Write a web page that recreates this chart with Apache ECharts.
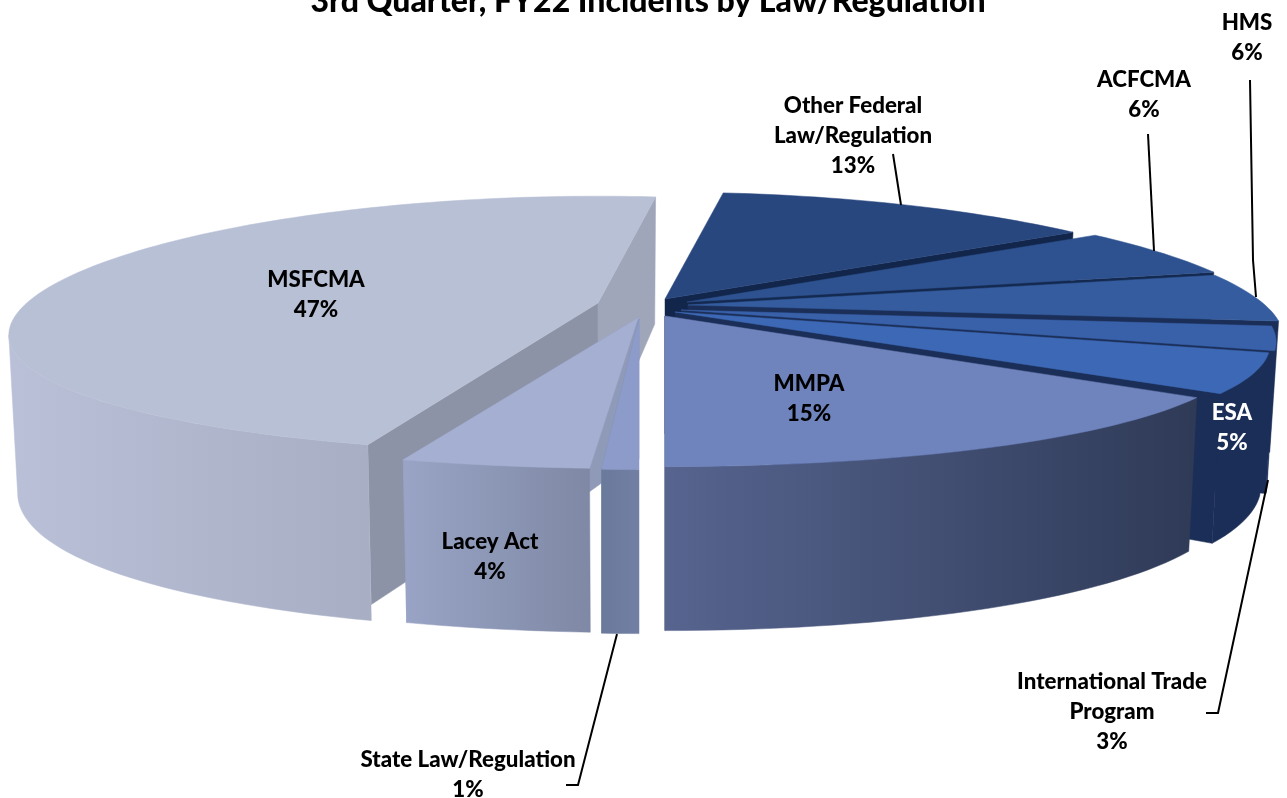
<!DOCTYPE html>
<html>
<head>
<meta charset="utf-8">
<style>html,body{margin:0;padding:0;background:#fff}#c{width:1287px;height:798px}</style>
<script src="https://cdn.jsdelivr.net/npm/echarts@6/dist/echarts.min.js"></script>
</head>
<body>
<div id="c"></div>
<script>
// ---------- data ----------
var titleText = '3rd Quarter, FY22 Incidents by Law/Regulation';
var categories = ['Other Federal\nLaw/Regulation', 'ACFCMA', 'HMS', 'International Trade\nProgram', 'ESA', 'MMPA', 'State Law/Regulation', 'Lacey Act', 'MSFCMA'];
var percentages = [13, 6, 6, 3, 5, 15, 1, 4, 47];

// ---------- layout and style (one entry per slice, same order) ----------
var FIRST_ANGLE = 7.2, A = 577, B = 125, P = 0.245, Q = 0.17, RIM = 25, SHRINK = 0.985;
var WALL_FROM = 104.2, WALL_TO = 255.8;
var sliceLayout = [
  {ax:665,ay:299,xs:1,    d:135,top:'#28477f',cut:'#12264b',wall:['#1b2e57','#1b2e57']},
  {ax:687,ay:302,xs:1,    d:125,top:'#2e5290',cut:'#14294f',wall:['#1b2e57','#1b2e57']},
  {ax:688,ay:305,xs:1,    d:128,top:'#345c9f',cut:'#1b2e57',wall:['#1b2e57','#1b2e57']},
  {ax:681,ay:310,xs:1,    d:135,top:'#3861aa',cut:'#1b2e57',wall:['#1b2e57','#1b2e57']},
  {ax:675,ay:312,xs:1,    d:135,top:'#3c68b5',cut:'#1b2e57',wall:['#1b2e57','#1b2e57']},
  {ax:665,ay:316,xs:0.975,d:139,top:'#6f83bc',cut:'#1b2e57',wall:['#56648f','#2f3a57']},
  {ax:639,ay:319,xs:0.78, d:139,top:'#8c9bc9',cut:'#7f8cab',wall:['#6a7a9b','#727fa4'],k:1},
  {ax:638,ay:318,xs:1.01, d:139,top:'#a4afd1',cut:'#8f99b8',wall:['#99a4c6','#7f89a5']},
  {ax:598,ay:303,xs:0.99, d:152,top:'#b8c0d6',cut:'#a0a6ba',wall:['#b9c0d7','#a8aec4'],
   startCut:'#8d93a6',startTrim:16}
];
var labelLayout = [
  {x:853,y:135,line:[[893,154],[901,205]]},
  {x:1144,y:94,line:[[1148,134],[1154,251]]},
  {x:1247,y:37,line:[[1250,80],[1253,260],[1256,297]]},
  {x:1112,y:711,line:[[1268,480],[1218,713],[1206,713]]},
  {x:1232,y:427,color:'#fff'},
  {x:809,y:398},
  {x:468,y:774,line:[[617,634],[578,785],[566,785]]},
  {x:490,y:556},
  {x:316,y:294}
];

// ---------- slice angles come from the values ----------
var total = percentages.reduce(function (a, b) { return a + b; }, 0);
function sliceAngles(i) {
  var sum = 0;
  for (var j = 0; j < i; j++) sum += percentages[j];
  return [FIRST_ANGLE + sum / total * 360, FIRST_ANGLE + (sum + percentages[i]) / total * 360];
}
function rimTop(L, t) {
  var r = t * Math.PI / 180, c = Math.cos(r), s = Math.sin(r);
  return [L.ax + L.xs * A * s / (1 + P * c), L.ay - B * c / (1 + Q * c)];
}
function rimBottom(L, t, trim) {
  var p = rimTop(L, t), c = Math.cos(t * Math.PI / 180);
  var k = L.k || SHRINK;
  return [L.ax + k * (p[0] - L.ax), p[1] + L.d - RIM * c - (trim || 0)];
}
function arc(fn, L, a, b) {
  var out = [], n = Math.max(2, Math.ceil(Math.abs(b - a) / 1.5));
  for (var i = 0; i <= n; i++) out.push(fn(L, a + (b - a) * i / n));
  return out;
}
function poly(points, fill, z) {
  return {type:'polygon', z2:z, shape:{points:points}, style:{fill:fill, stroke:fill, lineWidth:0.5}};
}
function hGrad(c) {
  return new echarts.graphic.LinearGradient(0, 0, 1, 0, [{offset:0,color:c[0]},{offset:1,color:c[1]}]);
}
function renderSlice(params, api) {
  var i = api.value(0), L = sliceLayout[i], ang = sliceAngles(i), a = ang[0], b = ang[1];
  var apex = [L.ax, L.ay], apexB = [L.ax, L.ay + L.d], kids = [];
  // the big slice is painted first, the right group after it, in reading order
  var order = [3, 4, 5, 6, 7, 8, 9.5, 9, 0][i] * 10;
  if (L.startCut) {
    kids.push(poly([apex, rimTop(L, a), rimBottom(L, a, L.startTrim), apexB], L.startCut, order + 1));
  }
  kids.push(poly([apex, rimTop(L, b), rimBottom(L, b), apexB], L.cut, order + 1));
  var wa = Math.max(a, WALL_FROM), wb = Math.min(b, WALL_TO);
  if (wb > wa) {
    var top = arc(rimTop, L, wa, wb), bot = arc(rimBottom, L, wa, wb).reverse();
    kids.push(poly(top.concat(bot), hGrad(L.wall), order + 2));
  }
  kids.push(poly([apex].concat(arc(rimTop, L, a, b)), L.top, order + 3));
  return {type:'group', children:kids};
}
function renderLabel(params, api) {
  var i = api.value(0), T = labelLayout[i], kids = [];
  if (T.line) kids.push({type:'polyline', z2:200, shape:{points:T.line},
    style:{stroke:'#000', lineWidth:2, fill:null}});
  kids.push({type:'text', z2:210, style:{
    text:categories[i] + '\n' + api.value(1) + '%', x:T.x, y:T.y + 0.5, align:'center', verticalAlign:'middle',
    fill:T.color || '#000', font:'900 22.3px Lato, "Open Sans", sans-serif', lineHeight:30}});
  return {type:'group', children:kids};
}

var dataRows = percentages.map(function (v, i) { return [i, v]; });
var chart = echarts.init(document.getElementById('c'), null, {renderer:'canvas'});
chart.setOption({
  animation:false,
  backgroundColor:'#fff',
  title:{text:titleText, left:643, top:-19, textAlign:'center',
    textStyle:{fontFamily:'Lato, "Open Sans", sans-serif', fontWeight:900, fontSize:32, color:'#000'}},
  series:[
    {type:'custom', coordinateSystem:'none', silent:true, z:2, data:dataRows, renderItem:renderSlice},
    {type:'custom', coordinateSystem:'none', silent:true, z:3, data:dataRows, renderItem:renderLabel}
  ]
});
</script>
</body>
</html>
